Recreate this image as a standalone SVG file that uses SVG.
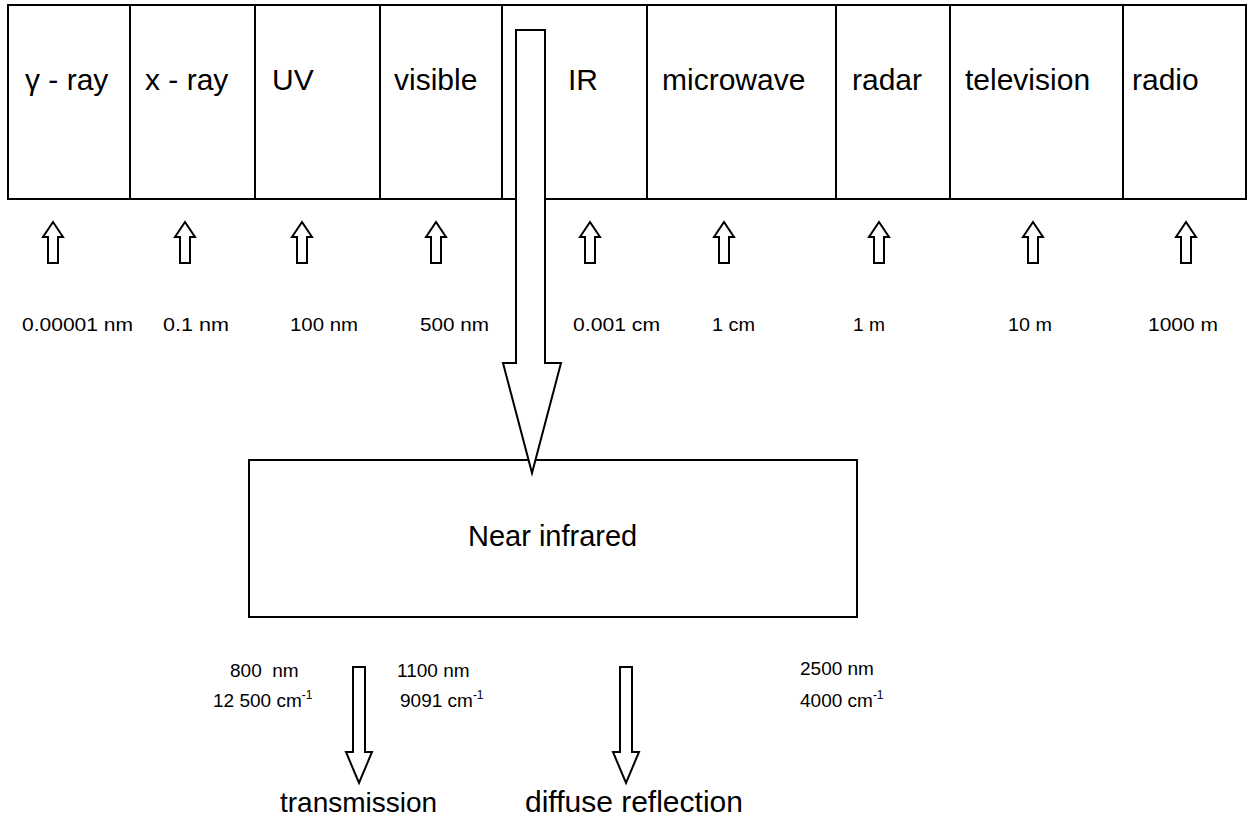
<svg xmlns="http://www.w3.org/2000/svg" width="1249" height="819" viewBox="0 0 1249 819">
  <style>
    .box { fill: #ffffff; stroke: #000000; stroke-width: 2; }
    .band { font-family: "Liberation Sans", Arial, sans-serif; font-size: 30px; fill: #000000; }
    .lab { font-family: "Liberation Sans", Arial, sans-serif; font-size: 19px; fill: #000000; }
    .sup { font-size: 12px; }
    .arr { fill: #ffffff; stroke: #000000; stroke-width: 2; stroke-linejoin: miter; }
    .big { font-family: "Liberation Sans", Arial, sans-serif; font-size: 29px; fill: #000000; }
  </style>
  <defs>
    <path id="up" d="M0,0 L10,15 L5,15 L5,41 L-5,41 L-5,15 L-10,15 Z"/>
    <path id="down" d="M-6,0 L6,0 L6,85 L13,85 L0,116 L-13,85 L-6,85 Z"/>
  </defs>

  <rect width="1249" height="819" fill="#ffffff"/>

  <g id="spectrum">
    <g id="gamma"><rect class="box" x="8" y="5" width="122" height="194"/><text class="band" x="25" y="90">γ - ray</text></g>
    <g id="xray"><rect class="box" x="130" y="5" width="125" height="194"/><text class="band" x="145" y="90">x - ray</text></g>
    <g id="uv"><rect class="box" x="255" y="5" width="125" height="194"/><text class="band" x="272" y="90">UV</text></g>
    <g id="visible"><rect class="box" x="380" y="5" width="122" height="194"/><text class="band" x="394" y="90">visible</text></g>
    <g id="ir"><rect class="box" x="502" y="5" width="145" height="194"/><text class="band" x="568" y="90">IR</text></g>
    <g id="microwave"><rect class="box" x="647" y="5" width="189" height="194"/><text class="band" x="662" y="90">microwave</text></g>
    <g id="radar"><rect class="box" x="836" y="5" width="114" height="194"/><text class="band" x="852" y="90">radar</text></g>
    <g id="television"><rect class="box" x="950" y="5" width="173" height="194"/><text class="band" x="965" y="90">television</text></g>
    <g id="radio"><rect class="box" x="1123" y="5" width="123" height="194"/><text class="band" x="1132" y="90">radio</text></g>
  </g>

  <g id="nir">
    <rect class="box" x="249" y="460" width="608" height="157"/>
    <text class="big" x="468" y="546">Near infrared</text>
  </g>

  <g id="connectors">
    <g id="scale-arrows">
      <use href="#up" class="arr" x="53" y="222"/>
      <use href="#up" class="arr" x="185" y="222"/>
      <use href="#up" class="arr" x="302" y="222"/>
      <use href="#up" class="arr" x="436" y="222"/>
      <use href="#up" class="arr" x="590" y="222"/>
      <use href="#up" class="arr" x="724" y="222"/>
      <use href="#up" class="arr" x="879" y="222"/>
      <use href="#up" class="arr" x="1033" y="222"/>
      <use href="#up" class="arr" x="1186" y="222"/>
    </g>
    <polygon id="ir-to-nir" class="arr" points="516,30 545,30 545,363 561,363 532,473 503,363 516,363"/>
    <use id="to-transmission" href="#down" class="arr" x="359" y="667"/>
    <use id="to-diffuse" href="#down" class="arr" x="626" y="667"/>
  </g>

  <g id="scale-labels" class="lab">
    <text x="22" y="331" textLength="111" lengthAdjust="spacingAndGlyphs">0.00001 nm</text>
    <text x="163" y="331" textLength="66" lengthAdjust="spacingAndGlyphs">0.1 nm</text>
    <text x="290" y="331" textLength="68" lengthAdjust="spacingAndGlyphs">100 nm</text>
    <text x="420" y="331" textLength="69" lengthAdjust="spacingAndGlyphs">500 nm</text>
    <text x="573" y="331" textLength="87" lengthAdjust="spacingAndGlyphs">0.001 cm</text>
    <text x="712" y="331" textLength="43" lengthAdjust="spacingAndGlyphs">1 cm</text>
    <text x="853" y="331" textLength="32" lengthAdjust="spacingAndGlyphs">1 m</text>
    <text x="1008" y="331" textLength="44" lengthAdjust="spacingAndGlyphs">10 m</text>
    <text x="1148" y="331" textLength="70" lengthAdjust="spacingAndGlyphs">1000 m</text>
  </g>

  <g id="nir-range" class="lab">
    <text x="230" y="677" xml:space="preserve">800  nm</text>
    <text x="213" y="707">12 500 cm<tspan class="sup" dy="-8">-1</tspan></text>
    <text x="397" y="677">1100 nm</text>
    <text x="400" y="707">9091 cm<tspan class="sup" dy="-8">-1</tspan></text>
    <text x="800" y="675">2500 nm</text>
    <text x="800" y="707">4000 cm<tspan class="sup" dy="-8">-1</tspan></text>
  </g>

  <g id="transmission"><text class="big" x="280" y="812" style="font-size:28px">transmission</text></g>
  <g id="diffuse-reflection"><text class="big" x="525" y="812" style="font-size:30px">diffuse reflection</text></g>
</svg>
